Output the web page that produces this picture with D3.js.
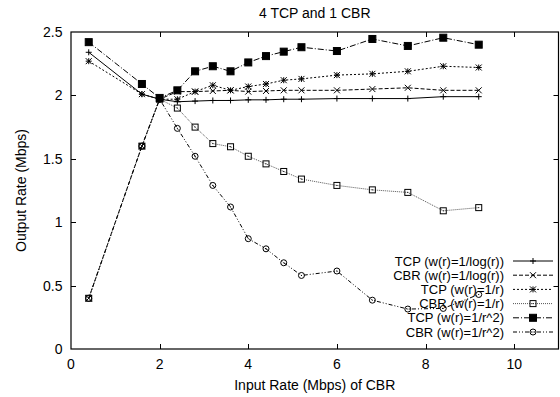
<!DOCTYPE html>
<html>
<head>
<meta charset="utf-8">
<script src="https://cdn.jsdelivr.net/npm/d3@7"></script>
<style>
  body { margin: 0; background: #fff; }
  svg { display: block; font-family: "Liberation Sans", Arial, Helvetica, sans-serif; }
</style>
</head>
<body>
<svg id="chart"></svg>
<script>
// input rate (Mbps) of CBR
const inputRate = [0.4, 1.6, 2.0, 2.4, 2.8, 3.2, 3.6, 4.0, 4.4, 4.8, 5.2, 6.0, 6.8, 7.6, 8.4, 9.2];

const tcpLog  = [2.34, 2.01, 1.97, 1.95, 1.955, 1.96, 1.96, 1.965, 1.965, 1.97, 1.97, 1.975, 1.975, 1.975, 1.99, 1.99];
const cbrLog  = [0.4, 1.6, 1.97, 2.03, 2.03, 2.035, 2.04, 2.03, 2.035, 2.04, 2.04, 2.04, 2.05, 2.06, 2.04, 2.04];
const tcpInv  = [2.27, 2.01, 1.97, 1.97, 2.03, 2.08, 2.04, 2.07, 2.09, 2.12, 2.13, 2.16, 2.17, 2.19, 2.23, 2.22];
const cbrInv  = [0.4, 1.6, 1.97, 1.90, 1.75, 1.62, 1.595, 1.52, 1.46, 1.40, 1.34, 1.29, 1.255, 1.235, 1.09, 1.115];
const tcpInv2 = [2.42, 2.09, 1.98, 2.04, 2.19, 2.23, 2.19, 2.26, 2.31, 2.345, 2.38, 2.35, 2.445, 2.39, 2.455, 2.40];
const cbrInv2 = [0.4, 1.6, 1.97, 1.74, 1.52, 1.29, 1.12, 0.87, 0.79, 0.68, 0.58, 0.615, 0.385, 0.315, 0.32, 0.43];

const seriesNames = ['TCP (w(r)=1/log(r))', 'CBR (w(r)=1/log(r))', 'TCP (w(r)=1/r)',
                     'CBR (w(r)=1/r)', 'TCP (w(r)=1/r^2)', 'CBR (w(r)=1/r^2)'];
const seriesValues = [tcpLog, cbrLog, tcpInv, cbrInv, tcpInv2, cbrInv2];

const xTicks = [0, 2, 4, 6, 8, 10];
const yTicks = [0, 0.5, 1, 1.5, 2, 2.5];

// gnuplot style line types
const dashes = ['none', '4,2', '2,2', '1,1', '6,2,1,2', '4,2,1,2,1,2'];
const marks  = ['plus', 'cross', 'star', 'box', 'fbox', 'circle'];

const width = 560, height = 397;
const margin = {top: 32, right: 1.5, bottom: 48, left: 71};

const svg = d3.select('#chart').attr('width', width).attr('height', height);

const x = d3.scaleLinear().domain([0, 11]).range([margin.left, width - margin.right]);
const y = d3.scaleLinear().domain([0, 2.5]).range([height - margin.bottom, margin.top]);

// ticks, mirrored on all sides, pointing inwards
const tick = 5;
const axes = svg.append('g').attr('stroke', '#000').attr('stroke-width', 1);
xTicks.forEach(t => {
  if (t === 0) return;
  const px = Math.round(x(t)) + 0.5;
  axes.append('line').attr('x1', px).attr('x2', px).attr('y1', y(0)).attr('y2', y(0) - tick);
  axes.append('line').attr('x1', px).attr('x2', px).attr('y1', y(2.5)).attr('y2', y(2.5) + tick);
});
yTicks.forEach(t => {
  if (t === 0 || t === 2.5) return;
  const py = Math.round(y(t)) + 0.5;
  axes.append('line').attr('x1', x(0)).attr('x2', x(0) + tick).attr('y1', py).attr('y2', py);
  axes.append('line').attr('x1', x(11)).attr('x2', x(11) - tick).attr('y1', py).attr('y2', py);
});

svg.append('g').selectAll('text').data(xTicks).join('text')
  .attr('x', d => x(d)).attr('y', 368.5)
  .attr('text-anchor', 'middle').attr('font-size', 14).text(d => d);

svg.append('g').selectAll('text').data(yTicks).join('text')
  .attr('x', 62.5).attr('y', d => y(d) + 5)
  .attr('text-anchor', 'end').attr('font-size', 14).text(d => d);

svg.append('text').attr('x', (x(0) + x(11)) / 2).attr('y', 17.5)
  .attr('text-anchor', 'middle').attr('font-size', 14).text('4 TCP and 1 CBR');

svg.append('text').attr('x', (x(0) + x(11)) / 2).attr('y', 390)
  .attr('text-anchor', 'middle').attr('font-size', 14).text('Input Rate (Mbps) of CBR');

svg.append('text')
  .attr('transform', `translate(26, ${(y(0) + y(2.5)) / 2}) rotate(-90)`)
  .attr('text-anchor', 'middle').attr('font-size', 14).text('Output Rate (Mbps)');

function drawMark(g, kind, cx, cy) {
  const s = 3;
  const p = g.append('g').attr('transform', `translate(${cx},${cy})`)
    .attr('stroke', '#000').attr('stroke-width', 1).attr('fill', 'none');
  if (kind === 'plus' || kind === 'star') {
    p.append('path').attr('d', `M${-s},0H${s}M0,${-s}V${s}`);
  }
  if (kind === 'cross' || kind === 'star') {
    p.append('path').attr('d', `M${-s},${-s}L${s},${s}M${-s},${s}L${s},${-s}`);
  }
  if (kind === 'box') {
    p.append('rect').attr('x', -s).attr('y', -s).attr('width', 2 * s).attr('height', 2 * s);
    p.append('rect').attr('x', -0.5).attr('y', -0.5).attr('width', 1).attr('height', 1).attr('fill', '#000').attr('stroke', 'none');
  }
  if (kind === 'fbox') {
    p.append('rect').attr('x', -s - 0.5).attr('y', -s - 0.5).attr('width', 2 * s + 1).attr('height', 2 * s + 1).attr('fill', '#000');
  }
  if (kind === 'circle') {
    p.append('circle').attr('r', s);
    p.append('rect').attr('x', -0.5).attr('y', -0.5).attr('width', 1).attr('height', 1).attr('fill', '#000').attr('stroke', 'none');
  }
}

// key
const key = svg.append('g');
seriesNames.forEach((name, i) => {
  const ky = 261 + i * 14.2;
  key.append('text')
    .attr('x', 504).attr('y', ky + 4.5)
    .attr('text-anchor', 'end').attr('font-size', 13).text(name);
  key.append('line').attr('x1', 513).attr('x2', 553).attr('y1', ky).attr('y2', ky)
    .attr('stroke', i === 3 ? '#555' : '#000').attr('stroke-width', 1)
    .attr('stroke-dasharray', dashes[i]);
  drawMark(key, marks[i], 533, ky);
});

const line = d3.line().x(d => x(d[0])).y(d => y(d[1]));

seriesValues.forEach((vals, i) => {
  const pts = inputRate.map((r, j) => [r, vals[j]]);
  const g = svg.append('g');
  g.append('path').attr('d', line(pts))
    .attr('fill', 'none').attr('stroke', i === 3 ? '#555' : '#000').attr('stroke-width', 1)
    .attr('stroke-dasharray', dashes[i]);
  pts.forEach(p => drawMark(g, marks[i], x(p[0]), y(p[1])));
});

// border
svg.append('rect')
  .attr('x', x(0)).attr('y', y(2.5))
  .attr('width', x(11) - x(0)).attr('height', y(0) - y(2.5))
  .attr('fill', 'none').attr('stroke', '#000').attr('stroke-width', 1.2);
</script>
</body>
</html>
